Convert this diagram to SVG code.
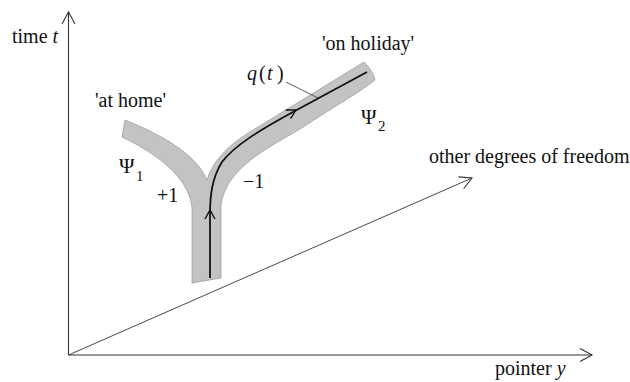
<svg xmlns="http://www.w3.org/2000/svg" width="630" height="382" viewBox="0 0 630 382">
<style>
text{font-family:"Liberation Serif","Times New Roman",serif;fill:#111;font-size:20px}
.it{font-style:italic}
.sub{font-size:15px}
.psi{font-size:21px}
.ax{fill:none;stroke:#333;stroke-width:1.1}
.chev{fill:none;stroke:#333;stroke-width:1.1}
.band{fill:#c3c3c3;stroke:#8a8a8a;stroke-width:0.6}
.path{fill:none;stroke:#111;stroke-width:1.8}
.pchev{fill:none;stroke:#111;stroke-width:1.4}
</style>
<defs>
<path id="ah" d="M-12,-6.5 L0,0 L-12,6.5"/>
<path id="ph" d="M-9,-5 L0,0 L-9,5"/>
</defs>
<rect width="630" height="382" fill="#fff"/>
<g id="axes">
<line class="ax" x1="68.5" y1="355" x2="68.5" y2="12"/>
<use href="#ah" class="chev" transform="translate(68.5,12) rotate(-90)"/>
<line class="ax" x1="68.5" y1="355" x2="592" y2="355"/>
<use href="#ah" class="chev" transform="translate(592,355)"/>
<line class="ax" x1="68.5" y1="355" x2="472" y2="178" style="stroke-width:0.9"/>
<use href="#ah" class="chev" transform="translate(472,178) rotate(-23.7)"/>
</g>
<g id="wavefunction">
<path class="band" d="M192,283 L192,208 C190,185 170,160 122,137 L125,120 C170,138 198,158 207,180 C213,160 230,143 258,127 L364,62 C370,68 374,74 375,80 C360,92 340,103 300,129 C268,148 226,168 221,205 L221,278 Z"/>
</g>
<g id="trajectory">
<path class="path" d="M210,278 L210,215 C210,195 212,178 222,162 C235,145 260,130 293,112 L367,72"/>
<use href="#ph" class="pchev" transform="translate(210,210) rotate(-90)"/>
<use href="#ph" class="pchev" transform="translate(296,110) rotate(-29)"/>
<line x1="286" y1="82" x2="318" y2="98" stroke="#333" stroke-width="0.8"/>
</g>
<g id="labels">
<text x="12" y="43">time <tspan class="it">t</tspan></text>
<text x="95" y="107">'at home'</text>
<text x="322" y="50">'on holiday'</text>
<text y="80"><tspan class="it" x="247">q</tspan><tspan x="259">(</tspan><tspan class="it" x="267">t</tspan><tspan x="277">)</tspan></text>
<text x="119" y="173" class="psi">Ψ</text>
<text x="136" y="181" class="sub">1</text>
<text x="157" y="202">+1</text>
<text x="243" y="188">−1</text>
<text x="361" y="124" class="psi">Ψ</text>
<text x="378" y="131" class="sub">2</text>
<text x="429" y="163">other degrees of freedom</text>
<text x="495" y="375">pointer <tspan class="it">y</tspan></text>
</g>
</svg>
